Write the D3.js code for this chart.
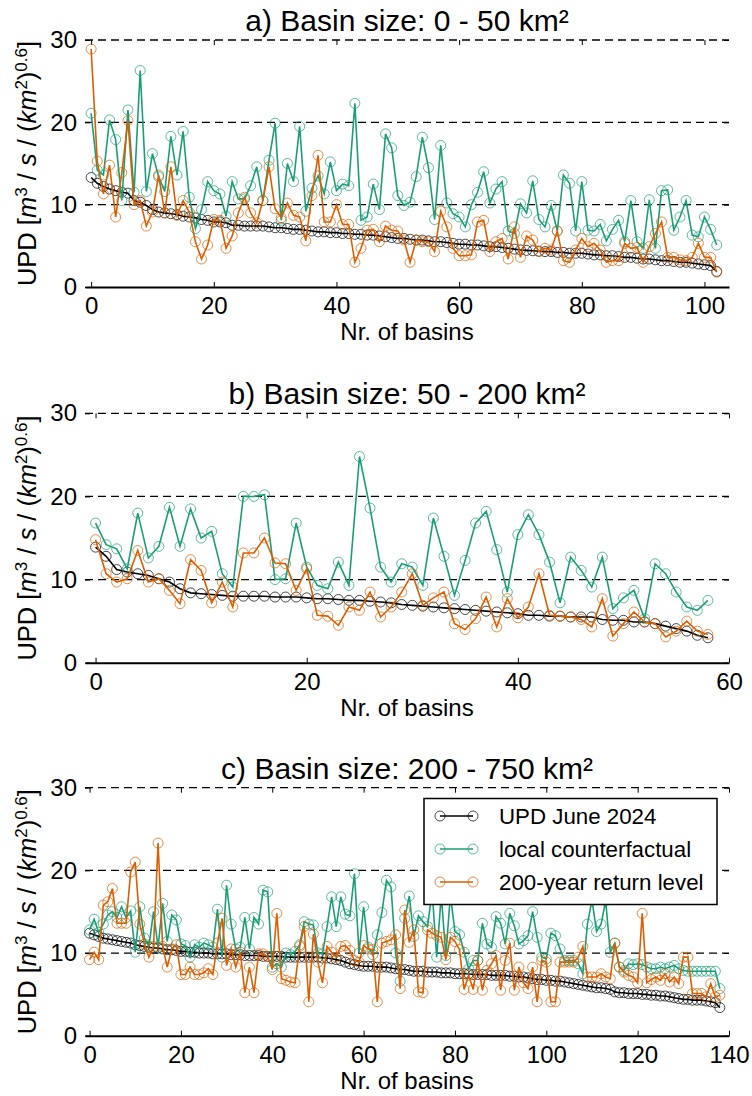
<!DOCTYPE html>
<html><head><meta charset="utf-8">
<script src="https://cdn.jsdelivr.net/npm/d3@7"></script>
<style>
html,body{margin:0;padding:0;background:#fff;}
svg text{font-family:"Liberation Sans",Arial,Helvetica,sans-serif;fill:#000;}
</style></head>
<body>
<script>
// ---------- DATA ----------
const titles = ["a) Basin size: 0 - 50 km²", "b) Basin size: 50 - 200 km²", "c) Basin size: 200 - 750 km²"];
const seriesNames = ["UPD June 2024", "local counterfactual", "200-year return level"];
const xTicksA = [0, 20, 40, 60, 80, 100];
const xTicksB = [0, 20, 40, 60];
const xTicksC = [0, 20, 40, 60, 80, 100, 120, 140];
const yTicks = [0, 10, 20, 30];

const updA = [13.3,12.6,12.2,11.9,11.7,11.5,11.4,10.5,10.3,9.9,
 9.4,9.1,9.0,8.9,8.8,8.6,8.5,8.4,8.2,8.1,
 7.9,7.9,7.8,7.5,7.5,7.4,7.4,7.4,7.4,7.3,
 7.2,7.2,7.1,7.0,7.0,6.9,6.8,6.7,6.7,6.6,
 6.6,6.5,6.5,6.4,6.4,6.3,6.3,6.2,6.1,6.0,
 5.9,5.9,5.8,5.7,5.7,5.6,5.5,5.5,5.4,5.3,
 5.2,5.2,5.1,5.1,5.0,4.9,4.9,4.8,4.7,4.6,
 4.5,4.45,4.4,4.35,4.3,4.3,4.2,4.2,4.1,4.1,
 4.1,4.0,3.9,3.9,3.8,3.8,3.7,3.6,3.6,3.5,
 3.4,3.4,3.3,3.2,3.2,3.1,3.0,3.0,2.9,2.8,
 2.7,2.6,1.9];
const cfA = [21.1,14.2,13.6,20.3,17.9,10.5,21.5,11.5,26.3,11.6,
 16.2,13.4,11.6,18.3,13.6,18.9,10.9,7.1,9.4,12.8,
 11.7,11.3,8.6,12.8,10.7,10.7,12.3,14.6,10.5,15.4,
 19.9,8.1,15.0,12.8,19.5,9.2,12.0,13.5,11.3,15.2,
 11.7,12.5,12.3,22.3,8.1,8.5,12.5,9.4,18.6,16.9,
 11.1,9.9,10.3,13.4,18.2,14.5,8.2,17.2,10.2,8.9,
 8.5,7.3,10.0,11.5,14.0,10.2,11.9,12.8,6.8,6.5,
 10.1,9.0,12.9,8.2,7.3,9.9,6.8,13.6,12.6,6.8,
 12.8,6.9,6.8,7.6,5.6,7.0,8.1,5.5,10.5,5.5,
 4.7,10.6,4.7,11.7,11.8,6.9,8.5,10.5,6.3,6.1,
 8.5,7.0,5.1];
const rlA = [28.9,15.3,11.3,14.8,8.5,13.9,20.2,10.0,10.5,7.4,
 9.1,13.6,9.0,14.6,8.7,10.5,9.1,5.5,3.4,5.1,
 8.2,8.1,4.7,6.2,9.0,10.9,9.0,7.8,10.5,14.6,
 9.5,8.4,10.2,8.7,8.5,5.6,11.1,16.0,7.9,7.9,
 10.0,7.6,7.6,3.0,4.7,6.9,7.0,5.5,7.4,6.9,
 6.8,5.7,3.0,5.7,5.5,5.5,4.3,9.2,7.3,4.7,
 3.8,3.8,3.9,7.9,8.1,4.3,5.5,5.9,3.4,7.3,
 3.6,6.2,5.7,4.3,4.7,4.5,6.8,3.2,3.0,4.5,
 5.9,4.9,5.3,4.5,3.0,3.2,3.2,5.3,4.7,4.8,
 3.0,4.9,6.5,7.9,3.6,3.6,3.3,3.2,3.6,5.3,
 3.6,3.6,1.8];

const updB = [13.9,12.8,11.2,10.9,10.7,10.5,10.1,9.7,8.9,8.4,
 8.3,8.2,8.1,8.0,8.0,8.0,8.0,7.9,7.9,7.9,
 7.8,7.7,7.7,7.6,7.5,7.5,7.4,7.3,7.2,7.0,
 6.9,6.8,6.7,6.6,6.5,6.4,6.3,6.2,6.1,6.0,
 5.9,5.7,5.7,5.6,5.6,5.5,5.5,5.5,5.2,5.1,
 5.1,4.9,4.9,4.7,4.4,4.1,3.8,3.3,3.0];
const cfB = [16.8,14.2,13.7,11.3,18.0,12.6,14.0,18.7,14.0,18.5,
 15.0,15.8,10.7,9.1,20.0,20.0,20.2,10.0,10.1,16.8,
 11.5,9.3,8.9,12.1,9.3,24.8,18.6,11.5,9.7,11.9,
 11.5,9.3,17.4,12.8,8.1,12.3,16.8,18.2,13.6,8.5,
 15.4,17.8,15.4,12.1,7.2,12.7,11.1,9.1,12.7,6.5,
 7.8,8.7,5.3,11.9,10.7,8.5,6.7,6.3,7.5];
const rlB = [14.8,10.7,9.7,10.1,13.5,9.7,10.1,8.7,7.1,12.4,
 11.1,7.2,9.7,6.7,13.2,13.2,15.0,12.0,11.9,8.7,
 11.3,5.7,5.6,4.5,6.7,6.3,8.5,5.5,6.7,8.5,
 10.7,6.9,7.8,8.5,4.7,4.0,5.3,7.9,4.3,7.7,
 5.4,6.7,10.7,5.7,5.6,5.5,5.2,4.3,7.7,3.2,
 4.7,6.1,4.9,4.7,3.1,3.8,5.0,3.8,3.4];

const updC = [12.4,12.2,12.0,11.8,11.7,11.6,11.5,11.4,11.3,11.2,
 11.0,10.9,10.8,10.7,10.6,10.6,10.5,10.4,10.4,10.3,
 10.2,10.2,10.1,10.1,10.0,10.0,10.0,9.9,9.9,9.9,
 9.9,9.8,9.8,9.8,9.7,9.7,9.7,9.7,9.6,9.6,
 9.6,9.6,9.6,9.5,9.5,9.5,9.5,9.5,9.5,9.5,
 9.5,9.4,9.4,9.3,9.2,9.1,8.9,8.7,8.6,8.5,
 8.4,8.4,8.4,8.3,8.3,8.3,8.2,8.1,8.0,8.0,
 7.9,7.8,7.8,7.8,7.7,7.7,7.7,7.6,7.6,7.6,
 7.5,7.5,7.5,7.5,7.4,7.4,7.4,7.4,7.3,7.3,
 7.3,7.3,7.2,7.2,7.1,7.1,7.0,6.9,6.8,6.8,
 6.7,6.7,6.6,6.6,6.5,6.4,6.3,6.2,6.1,6.0,
 5.9,5.8,5.8,5.7,5.6,5.3,5.2,5.2,5.1,5.1,
 5.1,5.0,5.0,4.9,4.9,4.8,4.8,4.7,4.6,4.5,
 4.4,4.4,4.3,4.3,4.3,4.2,4.1,4.0,3.4];
const cfC = [12.8,14.1,12.5,13.5,14.6,15.0,14.3,15.6,14.3,15.1,
 10.1,15.6,11.8,10.8,15.0,10.7,16.0,11.4,14.6,14.0,
 11.1,10.9,9.5,11.0,10.7,11.2,11.0,10.7,15.3,9.5,
 18.2,13.5,10.5,10.7,14.3,10.5,14.3,13.5,17.6,17.4,
 8.3,8.7,8.3,10.0,9.8,10.2,11.0,13.8,13.5,13.4,
 10.0,9.9,13.2,16.8,13.2,16.8,14.7,14.5,19.6,10.0,
 15.6,10.7,9.8,12.2,14.9,18.8,18.0,10.0,6.6,14.2,
 16.9,12.0,14.5,13.8,13.2,17.5,9.5,17.0,9.7,17.0,
 12.6,12.2,10.1,8.1,9.1,9.1,13.6,11.1,10.7,14.4,
 13.6,11.1,14.8,13.3,11.1,11.5,12.1,15.0,11.9,9.5,
 9.3,12.4,12.1,10.5,9.1,9.1,9.1,8.7,7.5,13.5,
 16.4,12.6,13.5,16.3,10.1,11.2,8.3,7.9,8.7,8.6,
 8.7,8.6,8.3,8.1,8.1,8.3,8.1,8.3,8.5,8.1,
 7.9,7.8,7.8,7.8,7.8,7.8,7.8,7.8,5.7];
const rlC = [9.2,10.1,9.2,15.8,16.2,17.8,13.6,13.6,13.6,19.8,
 21.0,13.5,11.1,9.5,10.8,23.3,10.8,8.3,10.5,11.0,
 7.4,7.4,8.3,7.4,7.4,7.6,8.1,7.4,11.2,14.2,
 8.5,10.5,8.3,10.1,5.2,8.3,5.2,9.9,9.9,9.6,
 8.0,14.8,6.9,6.7,6.5,6.4,10.8,13.2,4.1,12.3,
 8.9,6.4,10.8,10.1,9.5,10.8,10.9,10.3,9.1,8.9,
 10.9,10.5,10.4,4.1,11.2,11.4,11.6,12.2,5.7,15.2,
 11.3,12.8,5.3,5.2,12.8,12.4,12.1,11.9,9.2,11.9,
 11.4,10.4,5.6,7.3,5.6,9.1,5.5,7.9,8.7,9.7,
 5.5,9.1,11.2,5.5,8.3,6.4,5.7,8.3,4.1,9.1,
 8.9,4.1,4.1,8.9,8.9,8.9,8.9,9.5,10.8,7.1,
 7.1,7.1,7.5,7.1,6.9,11.2,8.3,7.7,7.3,7.1,
 6.4,14.8,6.4,6.8,7.1,6.7,7.5,6.5,7.1,6.3,
 9.5,9.5,5.1,5.1,5.1,4.7,6.3,4.7,4.9];

// ---------- DRAWING ----------
const colors = ["#000000", "#1b9e77", "#d95f02"];
const W = 752, H = 1096;
const svg = d3.select("body").append("svg").attr("width", W).attr("height", H);

const panels = [
  {title: titles[0], top: 40, bottom: 287, xMax: 104, xTicks: xTicksA, data: [updA, cfA, rlA]},
  {title: titles[1], top: 413.3, bottom: 662.7, xMax: 60, xTicks: xTicksB, data: [updB, cfB, rlB]},
  {title: titles[2], top: 787.7, bottom: 1035.7, xMax: 140, xTicks: xTicksC, data: [updC, cfC, rlC], legend: true}
];
const L = 85, R = 729;
const FONT = '"Liberation Sans",Arial,sans-serif';

panels.forEach(p => {
  const x = d3.scaleLinear().domain([-1, p.xMax]).range([L, R]);
  const y = d3.scaleLinear().domain([0, 30]).range([p.bottom, p.top]);
  const g = svg.append("g");

  // dashed grid
  g.selectAll(".grid").data(yTicks.filter(v => v > 0)).join("line")
    .attr("x1", L).attr("x2", R).attr("y1", d => y(d)).attr("y2", d => y(d))
    .attr("stroke", "#000").attr("stroke-width", 1.3).attr("stroke-dasharray", "8,5");

  // bottom axis
  const xb = g.append("g").attr("transform", `translate(0,${p.bottom})`)
    .call(d3.axisBottom(x).tickValues(p.xTicks).tickSizeInner(-5).tickSizeOuter(0).tickPadding(10));
  xb.select(".domain").attr("stroke-width", 2);
  xb.selectAll("text").attr("font-size", 24).attr("font-family", FONT);
  // top ticks
  g.append("g").attr("transform", `translate(0,${p.top})`)
    .call(d3.axisTop(x).tickValues(p.xTicks).tickSizeInner(-5).tickSizeOuter(0).tickFormat(""))
    .call(a => a.select(".domain").remove());
  // left axis
  const yl = g.append("g").attr("transform", `translate(${L},0)`)
    .call(d3.axisLeft(y).tickValues(yTicks).tickSizeInner(-5).tickSizeOuter(0).tickPadding(8));
  yl.select(".domain").remove();
  yl.selectAll("text").attr("font-size", 24).attr("font-family", FONT);
  // right ticks
  g.append("g").attr("transform", `translate(${R},0)`)
    .call(d3.axisRight(y).tickValues(yTicks).tickSizeInner(-5).tickSizeOuter(0).tickFormat(""))
    .call(a => a.select(".domain").remove());

  // series
  p.data.forEach((vals, si) => {
    const pts = vals.map((v, i) => [i, v]);
    g.append("path").datum(pts)
      .attr("fill", "none").attr("stroke", colors[si]).attr("stroke-width", 1.6)
      .attr("d", d3.line().x(d => x(d[0])).y(d => y(d[1])));
    g.selectAll(null).data(pts).join("circle")
      .attr("cx", d => x(d[0])).attr("cy", d => y(d[1])).attr("r", 5)
      .attr("fill", "none").attr("stroke", colors[si]).attr("stroke-width", 1).attr("stroke-opacity", 0.7);
  });

  // title
  svg.append("text").attr("x", (L + R) / 2).attr("y", p.top - 9)
    .attr("text-anchor", "middle").attr("font-size", 30).text(p.title);
  // x label
  svg.append("text").attr("x", (L + R) / 2).attr("y", p.bottom + 53)
    .attr("text-anchor", "middle").attr("font-size", 24).text("Nr. of basins");
  // y label
  const yc = (p.top + p.bottom) / 2;
  const t = svg.append("text").attr("transform", `translate(36,${yc}) rotate(-90)`)
    .attr("text-anchor", "middle").attr("font-size", 25.5);
  t.append("tspan").text("UPD [");
  t.append("tspan").attr("font-style", "italic").text("m");
  t.append("tspan").attr("baseline-shift", "super").attr("font-size", 17).text("3");
  t.append("tspan").text(" / ");
  t.append("tspan").attr("font-style", "italic").text("s");
  t.append("tspan").text(" / (");
  t.append("tspan").attr("font-style", "italic").text("km");
  t.append("tspan").attr("baseline-shift", "super").attr("font-size", 17).text("2");
  t.append("tspan").text(")");
  t.append("tspan").attr("baseline-shift", "super").attr("font-size", 17).text("0.6");
  t.append("tspan").text("]");

  if (p.legend) {
    const lg = svg.append("g");
    lg.append("rect").attr("x", 424).attr("y", 798.5).attr("width", 293).attr("height", 106)
      .attr("fill", "#fff").attr("stroke", "#000").attr("stroke-width", 1.5);
    seriesNames.forEach((name, si) => {
      const yy = 816 + si * 33;
      lg.append("line").attr("x1", 440).attr("x2", 473).attr("y1", yy).attr("y2", yy)
        .attr("stroke", colors[si]).attr("stroke-width", 1.6);
      [440, 473].forEach(cx => lg.append("circle").attr("cx", cx).attr("cy", yy).attr("r", 5)
        .attr("fill", "none").attr("stroke", colors[si]).attr("stroke-width", 1).attr("stroke-opacity", 0.7));
      lg.append("text").attr("x", 499).attr("y", yy).attr("dy", "0.35em")
        .attr("font-size", 22.3).text(name);
    });
  }
});
</script>
</body></html>
